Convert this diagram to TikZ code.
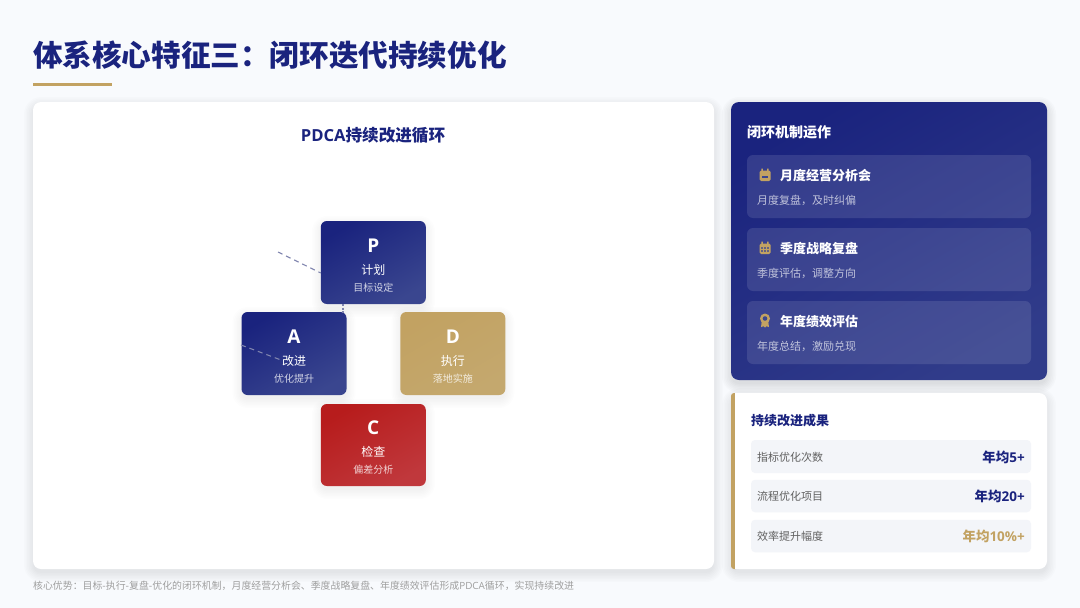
\documentclass[tikz,border=0pt]{standalone}
\usepackage{fontspec}
\setmainfont{Noto Sans CJK SC}
\newfontfamily\lat{Open Sans}
\definecolor{navy}{HTML}{1A237E}
\definecolor{navyb}{HTML}{3A468F}
\definecolor{gold}{HTML}{C2A262}
\definecolor{goldb}{HTML}{C4A86E}
\definecolor{crim}{HTML}{B71C1C}
\definecolor{crimb}{HTML}{C0383C}
\definecolor{pagebg}{HTML}{F8FAFD}
\definecolor{rowbg}{HTML}{F3F5F9}
\definecolor{dashc}{HTML}{7F84AE}
\newcommand\softshadow[6]{% x1,y1,x2,y2,radius,strength
  \foreach \sp in {9,7.5,6,4.5,3,1.5,0}{
    \fill[black,opacity=#6,rounded corners={#5+\sp*1pt}]
      (#1-\sp,#2-\sp+4) rectangle (#3+\sp,#4+\sp+4);
  }}
\tikzset{
  x=1pt,y=-1pt,
  plain/.style={inner sep=0pt,outer sep=0pt,rectangle,rounded corners=#1},
  plain/.default=6pt,
  whitecard/.style={plain=8pt,fill=white},
  navygrad/.style={plain,left color=navy,right color=navyb,shading angle=30},
  goldgrad/.style={plain,left color=gold,right color=goldb,shading angle=30},
  crimgrad/.style={plain,left color=crim,right color=crimb,shading angle=30},
  panelgrad/.style={plain=8pt,left color=navy,right color=navyb!70!navy,shading angle=30},
  glass/.style={plain=6pt,fill=white,fill opacity=.11},
  rowbox/.style={plain=4pt,fill=rowbg},
  txt/.style={inner sep=0pt,outer sep=0pt,font=\fontsize{#1}{#1}\selectfont},
  letter/.style={inner sep=0pt,outer sep=0pt,font=\lat\fontsize{19}{19}\selectfont\bfseries,text=white},
  pname/.style={txt=12,text=white},
  psub/.style={txt=10,text=white,text opacity=.78},
  ctitle/.style={anchor=west,font=\fontsize{13}{13}\selectfont\bfseries,inner sep=0pt,text=white},
  csub/.style={anchor=west,txt=11,text=white,text opacity=.68},
  rlabel/.style={anchor=west,txt=11,text=black!62},
  rvalue/.style={anchor=east,font=\fontsize{13.5}{13.5}\selectfont\bfseries,inner sep=0pt,text=#1},
  flow/.style={dashc,line width=1.1pt,dash pattern=on 5pt off 4pt},
}
\begin{document}
\begin{tikzpicture}
\useasboundingbox (0,0) rectangle (1080,608);
\fill[pagebg] (0,0) rectangle (1080,608);

% header
\node[anchor=west,inner sep=0pt,font=\fontsize{29.6}{30}\selectfont\bfseries,text=navy] (title) at (33,55) {体系核心特征三：闭环迭代持续优化};
\node[plain=0pt,fill=gold,minimum width=79pt,minimum height=3pt] (rule) at (72.5,84.5) {};

% main card
\softshadow{33}{102}{714}{569}{8}{.012}
\node[whitecard,minimum width=681pt,minimum height=467pt] (main) at (373.5,335.5) {};
\node[inner sep=0pt,font=\fontsize{16.6}{17}\selectfont\bfseries,text=navy] (maintitle) at (373,135) {{\lat PDCA}持续改进循环};

\coordinate (pfree) at (278,252);
\coordinate (afree) at (241,345);
\coordinate (aend) at (281,360);

\softshadow{321}{221}{426}{304}{6}{.008}
\softshadow{241.5}{312}{346.5}{395}{6}{.008}
\softshadow{400.3}{312}{505.3}{395}{6}{.008}
\softshadow{321}{404}{426}{486}{6}{.008}
\node[navygrad,minimum width=105pt,minimum height=83pt] (P) at (373.3,262.5) {};
\node[navygrad,minimum width=105pt,minimum height=83pt] (A) at (294,353.5) {};
\node[goldgrad,minimum width=105pt,minimum height=83pt] (D) at (452.8,353.5) {};
\node[crimgrad,minimum width=105pt,minimum height=82pt] (C) at (373.3,445) {};

\draw[flow] (pfree) -- (P.west |- 0,273);
\draw[flow] (afree) -- (aend);
\draw[dashc,line width=1.2pt,dash pattern=on 2pt off 1.5pt] (343,304) -- (343,312.5);

\node[letter] (Pl) at (373.3,245.5) {P};
\node[pname] (Pn) at (373.3,270) {计划};
\node[psub] (Ps) at (373.3,287.5) {目标设定};
\node[letter] (Al) at (294,336.5) {A};
\node[pname] (An) at (294,360.5) {改进};
\node[psub] (As) at (294,378.5) {优化提升};
\node[letter] (Dl) at (452.8,336.5) {D};
\node[pname] (Dn) at (452.8,360.5) {执行};
\node[psub] (Ds) at (452.8,378.5) {落地实施};
\node[letter] (Cl) at (373.3,427.5) {C};
\node[pname] (Cn) at (373.3,451.5) {检查};
\node[psub] (Cs) at (373.3,469.5) {偏差分析};

% right panel
\softshadow{731}{102}{1047}{380}{8}{.016}
\node[panelgrad,minimum width=316pt,minimum height=278pt] (panel) at (889,241) {};
\node[anchor=west,inner sep=0pt,font=\fontsize{14}{14}\selectfont\bfseries,text=white] (paneltitle) at (747,132.5) {闭环机制运作};
\node[glass,minimum width=284pt,minimum height=63pt] (c1) at (889,186.5) {};
\node[glass,minimum width=284pt,minimum height=63pt] (c2) at (889,259.5) {};
\node[glass,minimum width=284pt,minimum height=63pt] (c3) at (889,332.5) {};
\node[ctitle] (c1t) at (780,175.5) {月度经营分析会};
\node[csub] (c1s) at (757,200.5) {月度复盘，及时纠偏};
\node[ctitle] (c2t) at (780,248.5) {季度战略复盘};
\node[csub] (c2s) at (757,273.5) {季度评估，调整方向};
\node[ctitle] (c3t) at (780,321.5) {年度绩效评估};
\node[csub] (c3s) at (757,346) {年度总结，激励兑现};

% icon: calendar with a day mark
\fill[gold,rounded corners=1.5pt] (759.5,170.5) rectangle (770.5,181);
\fill[gold] (761.3,168.5) rectangle (762.8,171) (767.2,168.5) rectangle (768.7,171);
\fill[navyb] (762,175.8) rectangle (768,177.8);
% icon: calendar grid
\fill[gold,rounded corners=1.5pt] (759.5,243.5) rectangle (770.5,254);
\fill[gold] (761.3,241.5) rectangle (762.8,244) (767.2,241.5) rectangle (768.7,244);
\foreach \gx in {761.3,764.3,767.3}{\foreach \gy in {247.3,250.3}{
  \fill[navyb!70!gold] (\gx,\gy) rectangle ++(1.4,1.4);}}
% icon: award
\fill[gold] (761.8,321) -- (761,327.2) -- (763.4,326.2) -- (765,327.5) -- (766.6,326.2) -- (769,327.2) -- (768.2,321) -- cycle;
\fill[gold] (765,318.5) circle (5pt);
\fill[navyb] (765,318.5) circle (2.3pt);

% results card
\softshadow{731}{393}{1047}{569}{8}{.012}
\node[whitecard,minimum width=316pt,minimum height=176pt] (res) at (889,481) {};
\fill[gold,rounded corners=3pt] (731,393) rectangle (739,569);
\fill[white] (734.5,393) rectangle (745,569);
\node[anchor=west,inner sep=0pt,font=\fontsize{13}{13}\selectfont\bfseries,text=navy] (restitle) at (751,421) {持续改进成果};
\node[rowbox,minimum width=280pt,minimum height=33pt] (r1) at (891,456.5) {};
\node[rowbox,minimum width=280pt,minimum height=32.5pt] (r2) at (891,496) {};
\node[rowbox,minimum width=280pt,minimum height=32.5pt] (r3) at (891,536) {};
\node[rlabel] (r1l) at (757,457) {指标优化次数};
\node[rlabel] (r2l) at (757,496.5) {流程优化项目};
\node[rlabel] (r3l) at (757,536.5) {效率提升幅度};
\node[rvalue=navy] (r1v) at (1025,457) {年均{\lat 5+}};
\node[rvalue=navy] (r2v) at (1025,496.5) {年均{\lat 20+}};
\node[rvalue=gold] (r3v) at (1025,536.5) {年均{\lat 10\%+}};

% footer
\node[anchor=west,inner sep=0pt,font=\fontsize{9.9}{10}\selectfont,text=black!38] (foot) at (33,586) {核心优势：目标-执行-复盘-优化的闭环机制，月度经营分析会、季度战略复盘、年度绩效评估形成{\lat PDCA}循环，实现持续改进};
\end{tikzpicture}
\end{document}
